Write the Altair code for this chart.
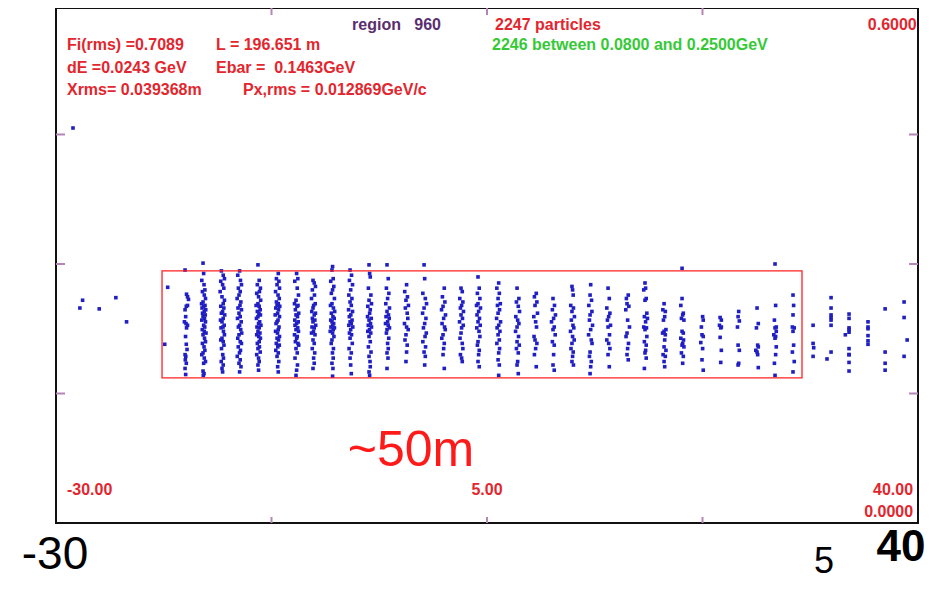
import altair as alt
import pandas as pd

# ---- particle columns (s in m, E in GeV) ----
COL_X = [-19.52, -18.06, -16.52, -15.14, -13.60, -12.05, -10.51, -9.13, -7.59, -6.12,
         -4.58, -3.12, -1.58, -0.11, 1.43, 2.89, 4.27, 5.90, 7.44, 8.90,
         10.36, 11.90, 13.37, 14.83, 16.37, 17.83, 19.38, 20.84, 22.46, 23.93,
         25.39, 26.93, 28.39, 29.85, 31.48, 32.94, 34.40, 35.94, 37.33, 38.87]

COL_Y = [
    [0.293,0.265,0.262,0.259,0.252,0.251,0.247,0.239,0.233,0.231,0.229,0.226,0.216,0.207,0.201,0.195,0.193,0.189,0.185,0.179,0.172],
    [0.301,0.289,0.281,0.276,0.270,0.268,0.264,0.260,0.256,0.254,0.252,0.251,0.249,0.247,0.245,0.243,0.241,0.239,0.237,0.235,0.233,0.229,0.227,0.224,0.222,0.220,0.218,0.214,0.210,0.208,0.204,0.200,0.197,0.195,0.191,0.187,0.185,0.176,0.173,0.171],
    [0.292,0.287,0.283,0.280,0.276,0.272,0.268,0.262,0.258,0.254,0.251,0.249,0.245,0.243,0.241,0.237,0.235,0.233,0.229,0.227,0.226,0.222,0.218,0.214,0.212,0.210,0.206,0.202,0.195,0.191,0.187,0.183,0.179,0.175],
    [0.292,0.287,0.281,0.276,0.272,0.268,0.264,0.260,0.256,0.252,0.249,0.247,0.243,0.239,0.237,0.233,0.229,0.227,0.224,0.220,0.218,0.214,0.210,0.208,0.204,0.200,0.197,0.193,0.189,0.185,0.181,0.175],
    [0.299,0.281,0.276,0.272,0.268,0.266,0.262,0.258,0.254,0.252,0.251,0.247,0.245,0.243,0.241,0.239,0.237,0.233,0.231,0.229,0.227,0.226,0.222,0.220,0.218,0.216,0.214,0.210,0.208,0.204,0.202,0.198,0.195,0.191,0.187,0.183,0.177],
    [0.289,0.283,0.280,0.276,0.272,0.268,0.264,0.260,0.256,0.254,0.252,0.251,0.249,0.247,0.243,0.241,0.239,0.235,0.233,0.231,0.227,0.224,0.222,0.220,0.216,0.214,0.212,0.208,0.206,0.204,0.200,0.197,0.193,0.187,0.181,0.175],
    [0.289,0.283,0.280,0.272,0.264,0.258,0.254,0.252,0.251,0.247,0.243,0.241,0.239,0.235,0.233,0.231,0.229,0.226,0.224,0.222,0.218,0.216,0.214,0.210,0.208,0.206,0.202,0.197,0.191,0.183,0.177,0.171],
    [0.281,0.278,0.274,0.270,0.264,0.260,0.254,0.252,0.249,0.245,0.243,0.241,0.237,0.235,0.233,0.229,0.227,0.226,0.222,0.220,0.218,0.212,0.208,0.202,0.197,0.191,0.185,0.179],
    [0.297,0.293,0.283,0.280,0.274,0.270,0.266,0.260,0.254,0.252,0.249,0.245,0.243,0.239,0.237,0.235,0.233,0.231,0.229,0.227,0.226,0.224,0.222,0.220,0.216,0.212,0.208,0.202,0.197,0.191,0.185,0.179,0.170],
    [0.293,0.287,0.281,0.276,0.270,0.264,0.260,0.256,0.252,0.247,0.245,0.241,0.239,0.235,0.233,0.231,0.229,0.227,0.224,0.220,0.218,0.214,0.208,0.202,0.197,0.191,0.183,0.173],
    [0.299,0.289,0.285,0.272,0.264,0.258,0.254,0.251,0.247,0.243,0.239,0.237,0.235,0.231,0.229,0.227,0.224,0.222,0.220,0.216,0.210,0.204,0.198,0.193,0.187,0.181,0.175,0.171],
    [0.299,0.283,0.272,0.266,0.260,0.254,0.249,0.245,0.241,0.239,0.237,0.233,0.231,0.229,0.226,0.224,0.220,0.214,0.208,0.202,0.197,0.191,0.179],
    [0.276,0.268,0.262,0.258,0.252,0.249,0.243,0.237,0.231,0.227,0.224,0.218,0.212,0.206,0.198,0.187],
    [0.299,0.283,0.266,0.260,0.254,0.249,0.243,0.237,0.231,0.226,0.220,0.216,0.210,0.204,0.198,0.193,0.183],
    [0.272,0.262,0.256,0.251,0.247,0.241,0.237,0.231,0.227,0.224,0.218,0.214,0.208,0.202,0.195,0.179],
    [0.272,0.268,0.260,0.256,0.252,0.249,0.245,0.241,0.237,0.233,0.229,0.226,0.220,0.214,0.208,0.202,0.195,0.191,0.187],
    [0.285,0.272,0.266,0.260,0.254,0.252,0.249,0.245,0.241,0.237,0.233,0.229,0.226,0.222,0.216,0.210,0.206,0.200,0.195,0.187,0.181],
    [0.278,0.272,0.266,0.260,0.254,0.252,0.247,0.243,0.237,0.233,0.229,0.226,0.222,0.218,0.212,0.208,0.202,0.197,0.189,0.183,0.171],
    [0.272,0.260,0.256,0.251,0.245,0.239,0.235,0.231,0.227,0.222,0.216,0.210,0.206,0.202,0.197,0.187,0.183,0.173],
    [0.266,0.262,0.256,0.252,0.243,0.239,0.233,0.227,0.216,0.212,0.208,0.202,0.195,0.181],
    [0.260,0.252,0.247,0.241,0.237,0.233,0.227,0.224,0.218,0.210,0.206,0.195,0.183,0.177],
    [0.274,0.270,0.264,0.252,0.249,0.245,0.239,0.235,0.229,0.226,0.222,0.216,0.212,0.208,0.202,0.198,0.193,0.187,0.183],
    [0.276,0.264,0.258,0.252,0.245,0.241,0.235,0.229,0.224,0.218,0.212,0.208,0.198,0.193,0.187,0.181,0.173],
    [0.272,0.260,0.249,0.243,0.239,0.235,0.229,0.227,0.218,0.212,0.208,0.202,0.195,0.181],
    [0.264,0.260,0.254,0.251,0.247,0.235,0.227,0.220,0.216,0.208,0.202,0.195,0.189],
    [0.278,0.272,0.270,0.260,0.258,0.243,0.239,0.237,0.233,0.227,0.226,0.224,0.216,0.210,0.206,0.200,0.197,0.191,0.179],
    [0.254,0.247,0.245,0.239,0.235,0.224,0.222,0.220,0.218,0.212,0.204,0.200,0.195,0.193,0.187,0.181],
    [0.295,0.260,0.252,0.243,0.241,0.237,0.235,0.222,0.220,0.214,0.212,0.208,0.206,0.204,0.197,0.193,0.185],
    [0.239,0.235,0.227,0.218,0.216,0.209,0.202,0.189,0.177],
    [0.238,0.235,0.229,0.227,0.226,0.215,0.200,0.186],
    [0.245,0.239,0.234,0.227,0.206,0.200,0.185,0.183],
    [0.249,0.231,0.226,0.206,0.204,0.200,0.198,0.195,0.180],
    [0.300,0.252,0.235,0.227,0.226,0.222,0.218,0.216,0.214,0.204,0.195,0.185,0.171],
    [0.264,0.252,0.241,0.227,0.226,0.222,0.206,0.198,0.187,0.175],
    [0.229,0.208,0.203,0.193],
    [0.261,0.249,0.241,0.238,0.235,0.229,0.198,0.190],
    [0.242,0.237,0.226,0.224,0.221,0.218,0.202,0.195,0.195,0.186,0.176],
    [0.233,0.227,0.225,0.217,0.211,0.207],
    [0.248,0.198,0.185,0.177],
    [0.256,0.238,0.212,0.193],
]

COL_DX = [
    [0.0,0.12,0.2,0.28,0.2,0.1,0.0,0.05,-0.05,0.08,0.2,0.12,0.04,0.1,0.16,0.0,0.06,0.02,0.1,0.0,0.05],
    [0.0,0.05,-0.1,0.08,0.15,-0.05,0.1,0.2,0.0,-0.12,0.16,0.05,-0.08,0.22,0.1,-0.04,0.18,0.0,0.12,-0.1,0.2,0.05,0.14,-0.06,0.1,0.24,0.0,0.12,0.2,-0.05,0.08,0.15,0.0,-0.1,0.1,0.2,0.05,0.0,0.08,0.02],
    [-0.05,0.1,0.2,-0.1,0.05,0.15,-0.15,0.0,0.2,0.1,-0.1,0.15,0.05,-0.05,0.22,0.1,-0.12,0.0,0.18,0.08,-0.08,0.12,0.2,0.0,-0.1,0.1,0.16,-0.04,0.06,0.12,-0.06,0.1,0.0,0.05],
    [0.05,-0.1,0.12,0.2,-0.05,0.1,0.0,-0.15,0.15,0.08,-0.08,0.2,0.0,0.1,-0.12,0.18,0.05,-0.05,0.14,0.22,0.0,-0.1,0.1,0.2,-0.06,0.12,0.04,-0.14,0.1,0.0,0.16,0.05],
    [0.0,0.1,-0.05,0.2,0.12,-0.1,0.05,0.22,0.0,-0.15,0.1,0.18,-0.05,0.08,0.2,0.0,-0.12,0.14,0.05,0.24,-0.08,0.1,0.0,0.16,-0.1,0.06,0.2,0.1,-0.05,0.12,0.0,0.18,-0.1,0.05,0.1,0.0,0.05],
    [0.1,-0.05,0.15,0.0,0.2,-0.12,0.08,0.18,-0.05,0.1,0.0,0.22,-0.1,0.12,0.05,-0.15,0.2,0.08,0.0,-0.08,0.16,0.1,-0.12,0.04,0.2,0.0,0.12,-0.06,0.18,0.06,-0.1,0.1,0.0,0.14,0.05,0.1],
    [0.05,0.15,-0.1,0.1,0.2,0.0,-0.12,0.16,0.08,-0.05,0.22,0.0,0.12,-0.1,0.18,0.05,-0.08,0.14,0.0,0.2,-0.12,0.1,0.05,-0.05,0.16,0.22,0.0,0.1,-0.08,0.12,0.05,0.0],
    [0.0,0.1,0.2,-0.05,0.12,-0.12,0.18,0.05,0.0,-0.1,0.2,0.1,-0.05,0.15,0.0,0.22,-0.08,0.1,0.04,-0.12,0.16,0.0,0.1,-0.06,0.14,0.05,0.1,0.0],
    [0.05,0.0,0.1,-0.1,0.15,0.05,-0.05,0.2,0.0,-0.12,0.12,0.22,-0.05,0.08,0.18,-0.1,0.0,0.14,0.06,-0.08,0.2,0.1,-0.14,0.05,0.16,0.0,-0.06,0.12,0.04,0.1,0.0,0.08,0.05],
    [0.0,0.12,-0.05,0.2,0.05,-0.1,0.15,0.0,0.1,-0.12,0.2,0.06,-0.06,0.16,0.0,0.1,-0.1,0.22,0.05,-0.05,0.12,0.0,0.18,-0.08,0.1,0.0,0.05,0.1],
    [0.0,0.05,0.1,-0.05,0.15,0.0,0.2,-0.1,0.1,0.05,-0.12,0.18,0.0,0.12,-0.06,0.2,0.04,-0.1,0.14,0.0,0.1,-0.05,0.16,0.0,0.08,0.1,0.0,0.05],
    [0.0,0.1,-0.05,0.15,0.05,-0.1,0.2,0.0,0.12,-0.08,0.18,0.05,-0.12,0.1,0.2,0.0,-0.05,0.14,0.05,0.1,0.0,0.08,0.0],
    [0.05,-0.1,0.12,0.0,0.2,-0.05,0.1,0.15,-0.12,0.05,0.18,0.0,-0.08,0.1,0.05,0.0],
    [0.0,0.05,-0.1,0.1,0.2,0.0,-0.12,0.15,0.05,-0.05,0.18,0.08,-0.1,0.12,0.0,0.1,0.05],
    [0.1,-0.05,0.15,0.0,-0.12,0.2,0.05,-0.08,0.12,0.18,0.0,-0.1,0.1,0.05,0.0,0.1],
    [0.0,0.1,-0.1,0.15,0.05,-0.05,0.2,0.0,0.12,-0.12,0.18,0.05,0.0,-0.08,0.1,0.15,-0.05,0.05,0.1],
    [0.0,0.1,-0.05,0.15,0.0,-0.12,0.2,0.05,-0.08,0.12,0.0,0.18,-0.1,0.08,0.15,0.0,-0.05,0.1,0.05,0.0,0.1],
    [0.05,-0.1,0.1,0.0,0.18,-0.05,0.12,0.0,-0.12,0.2,0.05,-0.08,0.15,0.0,0.1,-0.1,0.12,0.05,0.0,0.1,0.05],
    [0.0,0.15,-0.05,0.1,0.2,-0.1,0.05,0.15,0.0,-0.12,0.12,0.0,0.18,-0.05,0.1,0.05,0.0,0.1],
    [0.1,-0.05,0.15,0.0,0.2,-0.1,0.05,0.12,-0.08,0.0,0.15,0.05,-0.05,0.1],
    [0.0,0.12,-0.05,0.2,0.05,-0.12,0.1,0.0,0.18,-0.05,0.1,0.05,0.0,0.1],
    [0.0,0.05,0.1,-0.1,0.12,0.0,0.2,-0.05,0.08,0.15,-0.12,0.05,0.18,0.0,-0.08,0.1,0.05,0.0,0.12],
    [0.05,0.0,0.12,-0.1,0.15,0.0,-0.05,0.2,0.05,-0.12,0.1,0.16,0.0,-0.05,0.1,0.05,0.0],
    [0.0,0.1,-0.1,0.15,0.05,-0.05,0.2,0.0,0.12,-0.1,0.05,0.15,0.0,0.1],
    [0.1,-0.05,0.0,0.15,-0.1,0.05,0.2,0.0,-0.08,0.12,0.05,0.0,0.1],
    [0.0,0.05,-0.1,0.1,0.0,0.15,-0.05,0.2,0.05,-0.1,0.12,0.0,0.15,-0.05,0.1,0.05,0.0,0.1,-0.05],
    [0.0,-0.1,0.1,0.05,-0.05,0.15,0.0,-0.12,0.1,0.05,0.0,0.15,-0.08,0.1,0.0,0.05],
    [0.0,0.0,-0.1,0.1,0.05,-0.05,0.15,0.0,0.1,-0.1,0.12,0.05,0.0,0.15,-0.05,0.1,0.05],
    [0.05,0.1,-0.05,0.0,0.1,-0.1,0.05,0.0,0.1],
    [0.0,0.1,-0.05,0.1,0.05,0.0,0.1,0.05],
    [0.05,0.0,0.1,-0.05,0.0,0.1,0.05,0.0],
    [0.0,0.1,-0.05,0.05,0.1,-0.1,0.0,0.05,0.1],
    [0.0,0.05,-0.05,0.1,0.0,0.1,-0.1,0.05,0.0,0.1,0.05,-0.05,0.0],
    [0.0,0.05,0.0,-0.05,0.1,0.0,0.05,-0.05,0.1,0.0],
    [0.0,0.0,0.05,0.0],
    [0.0,0.0,0.0,0.0,0.0,0.0,0.0,-0.33],
    [0.0,0.0,0.0,0.0,0.0,-0.3,0.0,0.0,0.0,0.0,0.0],
    [0.0,0.0,0.0,0.0,0.0,0.0],
    [0.0,0.0,0.0,0.0],
    [0.0,0.0,0.25,0.0],
]

# isolated particles outside the columns
STRAY_X = [-28.62, -27.84, -28.06, -26.49, -25.14, -24.27, -20.93, -21.17]
STRAY_Y = [0.4575, 0.258, 0.249, 0.248, 0.261, 0.233, 0.273, 0.207]

# red window around the bunch train
BOX_S = [-21.39, 30.58]
BOX_E = [0.292, 0.168]

X_TICKS = [-12.5, 5.0, 22.5]
Y_TICKS = [0.15, 0.30, 0.45]

RED = "#e3262e"
GREEN = "#36c936"
PURPLE = "#5a2e6e"
FONT = "Liberation Sans"
NB = "\u00a0"

# annotation texts: (text, s, E, colour, size, weight, align)
LABELS = [
    ("region" + NB * 3 + "960", -5.96, 0.5768, PURPLE, 16, "bold", "left"),
    ("2247 particles", 5.65, 0.5768, RED, 16, "bold", "left"),
    ("2246 between 0.0800 and 0.2500GeV", 5.41, 0.5537, GREEN, 16, "bold", "left"),
    ("0.6000", 39.9, 0.5768, RED, 16, "bold", "right"),
    ("Fi(rms) =0.7089", -29.11, 0.5537, RED, 16, "bold", "left"),
    ("L = 196.651 m", -17.01, 0.5537, RED, 16, "bold", "left"),
    ("dE =0.0243 GeV", -29.11, 0.527, RED, 16, "bold", "left"),
    ("Ebar =" + NB * 2 + "0.1463GeV", -17.01, 0.527, RED, 16, "bold", "left"),
    ("Xrms= 0.039368m", -29.11, 0.5015, RED, 16, "bold", "left"),
    ("Px,rms = 0.012869GeV/c", -14.81, 0.5015, RED, 16, "bold", "left"),
    ("-30.00", -29.11, 0.0382, RED, 16, "bold", "left"),
    ("5.00", 5.0, 0.0382, RED, 16, "bold", "center"),
    ("40.00", 39.6, 0.0382, RED, 16, "bold", "right"),
    ("0.0000", 39.6, 0.0127, RED, 16, "bold", "right"),
    ("~50m", -1.17, 0.0834, "#ff1a1a", 50, "normal", "center"),
    ("-30", -30.08, -0.0371, "#000000", 46, "normal", "center"),
    ("5", 32.37, -0.0452, "#000000", 36, "normal", "center"),
    ("40", 38.62, -0.029, "#000000", 44, "bold", "center"),
]

W, H = 862, 515

rows = []
for cx, ys, dxs in zip(COL_X, COL_Y, COL_DX):
    for i, e in enumerate(ys):
        dx = dxs[i] if i < len(dxs) else 0.0
        rows.append({"s": cx + dx, "E": e})
for s, e in zip(STRAY_X, STRAY_Y):
    rows.append({"s": s, "E": e})
df = pd.DataFrame(rows)

xs = alt.Scale(domain=[-30, 40], nice=False, zero=False)
ys_ = alt.Scale(domain=[0, 0.5965], nice=False, zero=False)

points = alt.Chart(df).mark_square(size=13, color="#1f1fc4", opacity=1).encode(
    x=alt.X("s:Q", scale=xs, axis=None),
    y=alt.Y("E:Q", scale=ys_, axis=None),
)

box_df = pd.DataFrame({"s1": [BOX_S[0]], "s2": [BOX_S[1]], "e1": [BOX_E[0]], "e2": [BOX_E[1]]})
box = alt.Chart(box_df).mark_rect(fillOpacity=0, stroke="#ff2020", strokeWidth=1.3).encode(
    x=alt.X("s1:Q", scale=xs, axis=None), x2="s2:Q",
    y=alt.Y("e1:Q", scale=ys_, axis=None), y2="e2:Q",
)

TICK_COLOR = "#b585b5"
xt = pd.DataFrame({"t": X_TICKS})
yt = pd.DataFrame({"t": Y_TICKS})
top_ticks = alt.Chart(xt).mark_rule(color=TICK_COLOR, strokeWidth=2).encode(
    x=alt.X("t:Q", scale=xs, axis=None), y=alt.value(0), y2=alt.value(7))
bot_ticks = alt.Chart(xt).mark_rule(color=TICK_COLOR, strokeWidth=2).encode(
    x=alt.X("t:Q", scale=xs, axis=None), y=alt.value(H - 6), y2=alt.value(H))
left_ticks = alt.Chart(yt).mark_rule(color=TICK_COLOR, strokeWidth=2).encode(
    y=alt.Y("t:Q", scale=ys_, axis=None), x=alt.value(0), x2=alt.value(9))
right_ticks = alt.Chart(yt).mark_rule(color=TICK_COLOR, strokeWidth=2).encode(
    y=alt.Y("t:Q", scale=ys_, axis=None), x=alt.value(W - 9), x2=alt.value(W))

texts = []
for txt, s, e, col, size, weight, align in LABELS:
    d = pd.DataFrame({"label": [txt], "s": [s], "E": [e]})
    texts.append(
        alt.Chart(d).mark_text(font=FONT, fontSize=size, fontWeight=weight, color=col,
                               align=align, baseline="middle").encode(
            x=alt.X("s:Q", scale=xs, axis=None),
            y=alt.Y("E:Q", scale=ys_, axis=None),
            text="label:N",
        )
    )

chart = alt.layer(top_ticks, bot_ticks, left_ticks, right_ticks, points, box, *texts).properties(
    width=W, height=H,
    autosize=alt.AutoSizeParams(type="none"),
    padding={"left": 48, "top": 0, "right": 8, "bottom": 59},
    background="white",
).configure_view(stroke="#111111", strokeWidth=2)

chart.save("out.html", embed_options={"renderer": "svg", "actions": False})
